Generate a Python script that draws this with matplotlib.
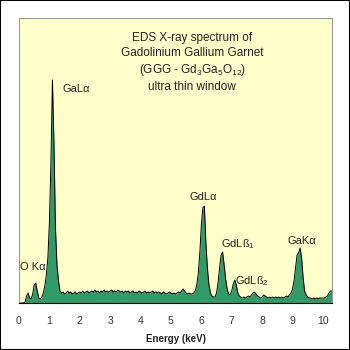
import numpy as np
import matplotlib
matplotlib.use("Agg")
import matplotlib.pyplot as plt
from matplotlib.patches import Rectangle

plt.rcParams['font.family'] = ['Liberation Sans', 'DejaVu Sans']
plt.rcParams['mathtext.fontset'] = 'custom'
plt.rcParams['mathtext.rm'] = 'Liberation Sans'

# spectrum, channel width 0.05 keV, counts (arbitrary units)
channel_kev = 0.05
counts = [
    0, 0, 0, 0, 1, 7, 10, 5, 4, 9,                 # 0.00 - 0.45
    18, 20, 12, 5, 4, 6, 10, 17, 28, 45,           # 0.50 - 0.95
    80, 140, 223, 160, 75, 38, 22, 12, 10, 11,     # 1.00 - 1.45
    9, 10, 12, 10, 11, 9, 10, 11, 9, 10,           # 1.50 - 1.95
    11, 10, 12, 10, 11, 12, 10, 11, 12, 11,        # 2.00 - 2.45
    13, 11, 12, 10, 12, 11, 13, 11, 12, 11,        # 2.50 - 2.95
    12, 13, 11, 12, 11, 13, 12, 11, 12, 10,        # 3.00 - 3.45
    12, 11, 12, 10, 11, 12, 10, 11, 10, 12,        # 3.50 - 3.95
    11, 10, 11, 12, 10, 11, 10, 11, 12, 10,        # 4.00 - 4.45
    11, 10, 11, 10, 9, 11, 10, 9, 10, 11,          # 4.50 - 4.95
    10, 9, 10, 9, 10, 11, 10, 12, 14, 12,          # 5.00 - 5.45
    10, 9, 10, 9, 9, 10, 12, 18, 30, 50,           # 5.50 - 5.95
    78, 95, 97, 60, 35, 18, 10, 7, 6, 6,           # 6.00 - 6.45
    10, 20, 35, 48, 51, 38, 24, 14, 9, 8,          # 6.50 - 6.95
    12, 19, 23, 18, 10, 7, 6, 5, 6, 5,             # 7.00 - 7.45
    6, 7, 6, 8, 10, 11, 9, 7, 6, 5,                # 7.50 - 7.95
    6, 8, 7, 6, 5, 6, 5, 6, 5, 6,                  # 8.00 - 8.45
    5, 6, 5, 6, 5, 6, 7, 6, 8, 10,                 # 8.50 - 8.95
    14, 22, 35, 48, 50, 55, 45, 25, 12, 8,         # 9.00 - 9.45
    6, 5, 5, 4, 5, 4, 5, 4, 5, 5,                  # 9.50 - 9.95
    5, 5, 6, 7, 10, 12, 12,                        # 10.00 - 10.30
]
energy = np.arange(len(counts)) * channel_kev

# peak labels: text, energy, height
peak_names = ['GaL\u03b1', 'O K\u03b1', 'GdL\u03b1', 'GdL\u00df$_1$', 'GdL\u00df$_2$', 'GaK\u03b1']
peak_x = [1.88, 0.45, 6.05, 7.2, 7.68, 9.3]
peak_y = [214, 36, 106, 59, 22, 62]

title_lines = ['EDS X-ray spectrum of', 'Gadolinium Gallium Garnet',
               '(GGG - Gd$_3$Ga$_5$O$_{12}$)', 'ultra thin window']
title_y = [265, 250, 233, 216]

fig = plt.figure(figsize=(3.5, 3.5), dpi=100)
fig.patches.append(Rectangle((0, 0), 1, 1, transform=fig.transFigure,
                             fill=False, edgecolor='black', linewidth=1.5))
ax = fig.add_axes([19 / 350, 1 - 303 / 350, 313 / 350, 285 / 350])
ax.set_facecolor('#ffffcc')

ax.fill_between(energy, counts, 0, color='#339966', linewidth=0)
ax.plot(energy, counts, color='black', linewidth=0.7)

for name, x, y in zip(peak_names, peak_x, peak_y):
    ax.text(x, y, name, ha='center', va='center', fontsize=8, color='#222222')
for line, y in zip(title_lines, title_y):
    ax.text(5.7, y, line, ha='center', va='center', fontsize=8.5, color='#222222')

ax.set_xlim(0, 10.3)
ax.set_ylim(0, 285)
ax.set_xticks(range(0, 11))
ax.set_yticks([])
ax.tick_params(axis='x', length=0, pad=9, labelsize=7.5, labelcolor='#333333')
for side in ['top', 'left', 'right']:
    ax.spines[side].set_color('#999999')
    ax.spines[side].set_linewidth(0.8)
ax.spines['bottom'].set_color('black')
ax.set_xlabel('Energy (keV)', fontsize=7, fontweight='bold', color='#222222', labelpad=6)

fig.savefig('out.png', dpi=100)
